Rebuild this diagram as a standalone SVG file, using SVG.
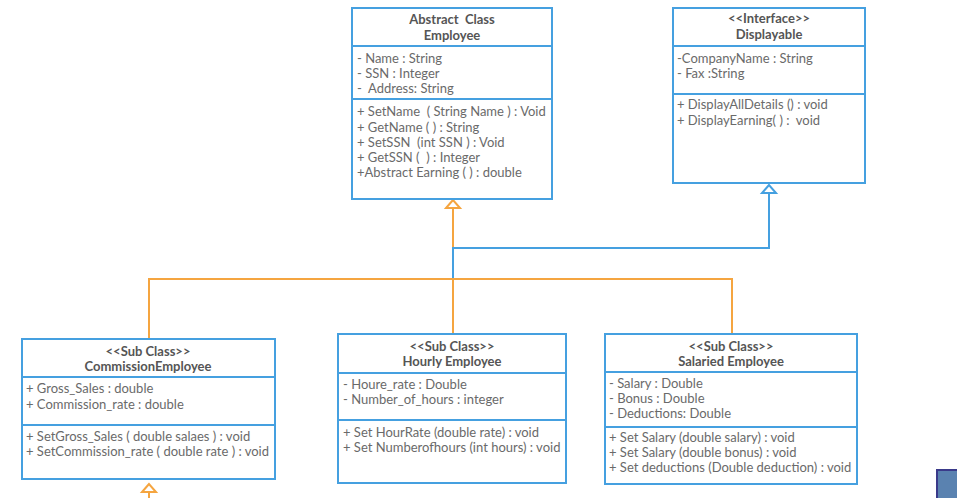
<svg xmlns="http://www.w3.org/2000/svg" width="957" height="498" viewBox="0 0 957 498">
<style>
.box{fill:#fff;stroke:#45a0e0;stroke-width:2}
.div{stroke:#45a0e0;stroke-width:2}
.t{font-family:Lato,"Liberation Sans",sans-serif;font-size:13px;fill:#6a6a6a;white-space:pre}
.h{font-family:Lato,"Liberation Sans",sans-serif;font-size:13px;font-weight:bold;fill:#555;text-anchor:middle;white-space:pre}
.o{stroke:#f5a540;stroke-width:2;fill:none}
.b{stroke:#45a0e0;stroke-width:2;fill:none}
.ot{fill:#fff;stroke:#f5a540;stroke-width:2}
.bt{fill:#fff;stroke:#45a0e0;stroke-width:2}
</style>
<rect x="0" y="0" width="957" height="498" fill="#fff"/>
<g id="connectors">
<polyline class="o" points="453,208 453,248"/>
<polyline class="b" points="769,194 769,248 453,248 453,279"/>
<polyline class="o" points="149,339 149,279 732,279 732,334"/>
<polyline class="o" points="453,279 453,334"/>
<polyline class="o" points="149,492 149,498"/>
<polygon class="ot" points="453,200 446,208 460,208"/>
<polygon class="bt" points="769,185 762,193 776,193"/>
<polygon class="ot" points="149,484 142,492 156,492"/>
</g>
<g id="employee">
<rect class="box" x="352" y="8" width="200" height="191"/>
<line class="div" x1="352" y1="46" x2="552" y2="46"/>
<line class="div" x1="352" y1="99" x2="552" y2="99"/>
<text class="h" x="452" y="24">Abstract  Class</text>
<text class="h" x="452" y="40">Employee</text>
<text class="t" x="357" y="63">- Name : String</text>
<text class="t" x="357" y="78">- SSN : Integer</text>
<text class="t" x="357" y="93">-  Address: String</text>
<text class="t" x="357" y="116">+ SetName  ( String Name ) : Void</text>
<text class="t" x="357" y="132">+ GetName ( ) : String</text>
<text class="t" x="357" y="147">+ SetSSN  (int SSN ) : Void</text>
<text class="t" x="357" y="162">+ GetSSN (  ) : Integer</text>
<text class="t" x="357" y="177">+Abstract Earning ( ) : double</text>
</g>
<g id="displayable">
<rect class="box" x="673" y="8" width="192" height="175"/>
<line class="div" x1="673" y1="46" x2="865" y2="46"/>
<line class="div" x1="673" y1="94" x2="865" y2="94"/>
<text class="h" x="769" y="23">&lt;&lt;Interface&gt;&gt;</text>
<text class="h" x="769" y="39">Displayable</text>
<text class="t" x="677" y="63">-CompanyName : String</text>
<text class="t" x="677" y="78">- Fax :String</text>
<text class="t" x="677" y="109">+ DisplayAllDetails () : void</text>
<text class="t" x="677" y="125">+ DisplayEarning( ) :  void</text>
</g>
<g id="commission">
<rect class="box" x="22" y="339" width="253" height="140"/>
<line class="div" x1="22" y1="377" x2="275" y2="377"/>
<line class="div" x1="22" y1="425" x2="275" y2="425"/>
<text class="h" x="148" y="356">&lt;&lt;Sub Class&gt;&gt;</text>
<text class="h" x="148" y="371">CommissionEmployee</text>
<text class="t" x="26" y="393">+ Gross_Sales : double</text>
<text class="t" x="26" y="409">+ Commission_rate : double</text>
<text class="t" x="26" y="441">+ SetGross_Sales ( double salaes ) : void</text>
<text class="t" x="26" y="456">+ SetCommission_rate ( double rate ) : void</text>
</g>
<g id="hourly">
<rect class="box" x="338" y="334" width="228" height="149"/>
<line class="div" x1="338" y1="373" x2="566" y2="373"/>
<line class="div" x1="338" y1="420" x2="566" y2="420"/>
<text class="h" x="452" y="351">&lt;&lt;Sub Class&gt;&gt;</text>
<text class="h" x="452" y="366">Hourly Employee</text>
<text class="t" x="343" y="389">- Houre_rate : Double</text>
<text class="t" x="343" y="404">- Number_of_hours : integer</text>
<text class="t" x="343" y="437">+ Set HourRate (double rate) : void</text>
<text class="t" x="343" y="452">+ Set Numberofhours (int hours) : void</text>
</g>
<g id="salaried">
<rect class="box" x="605" y="334" width="252" height="150"/>
<line class="div" x1="605" y1="372" x2="857" y2="372"/>
<line class="div" x1="605" y1="427" x2="857" y2="427"/>
<text class="h" x="731" y="351">&lt;&lt;Sub Class&gt;&gt;</text>
<text class="h" x="731" y="366">Salaried Employee</text>
<text class="t" x="609" y="388">- Salary : Double</text>
<text class="t" x="609" y="403">- Bonus : Double</text>
<text class="t" x="609" y="418">- Deductions: Double</text>
<text class="t" x="609" y="442">+ Set Salary (double salary) : void</text>
<text class="t" x="609" y="457">+ Set Salary (double bonus) : void</text>
<text class="t" x="609" y="472">+ Set deductions (Double deduction) : void</text>
</g>
<rect x="937" y="470" width="22" height="30" fill="#5a82b0" stroke="#3a3a8a" stroke-width="2"/>
</svg>
